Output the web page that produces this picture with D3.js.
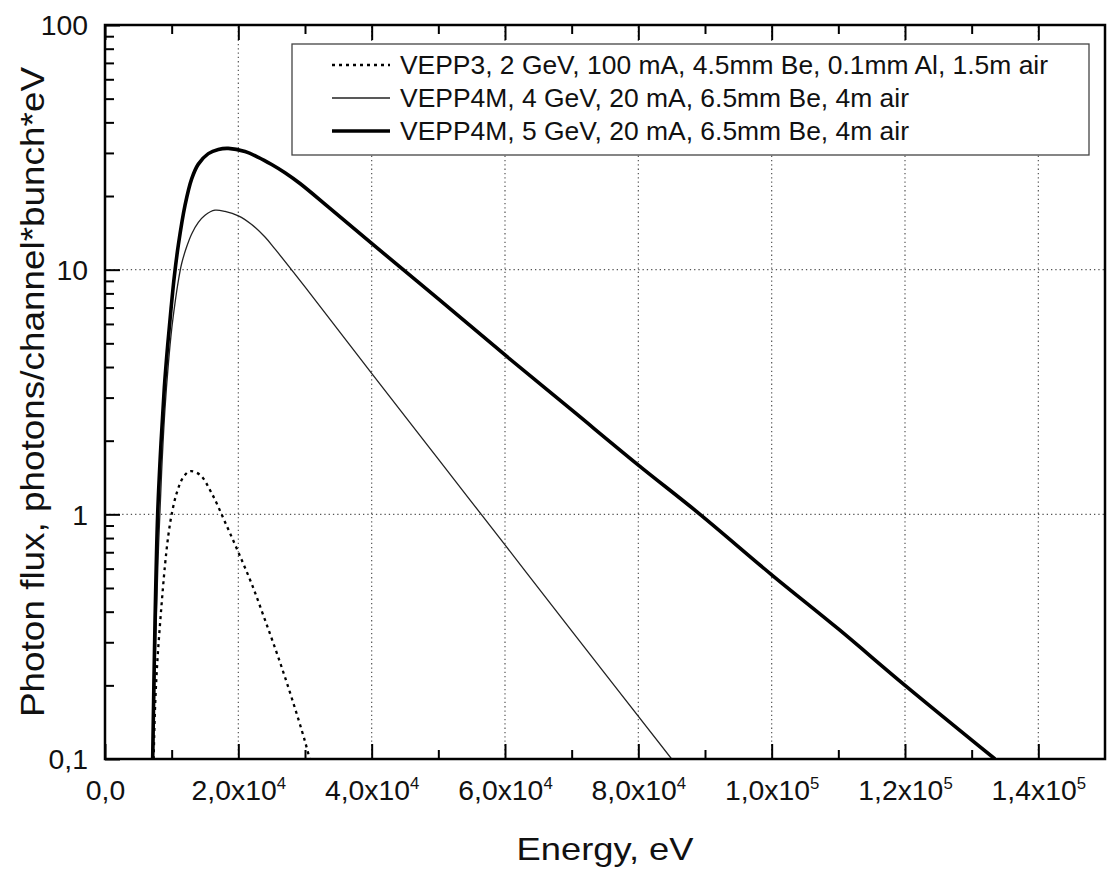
<!DOCTYPE html>
<html lang="en">
<head>
<meta charset="UTF-8">
<title>Photon flux vs energy</title>
<script src="https://d3js.org/d3.v7.min.js"></script>
<style>
  body { margin: 0; background: #fff; }
  svg { display: block; font-family: "Liberation Sans", Arial, sans-serif; }
</style>
</head>
<body>
<svg id="chart"></svg>
<script>
const width = 1112, height = 872;
const margin = { top: 25, right: 7, bottom: 113, left: 105 };

// [energy eV, photons/channel*bunch*eV]
const vepp3_2GeV = [
  [7300, 0.1], [7500, 0.16], [7850, 0.25], [8400, 0.40], [9000, 0.62], [9500, 0.82], [10000, 1.0],
  [10750, 1.22], [11750, 1.42], [12750, 1.5], [14250, 1.45], [16000, 1.22], [18000, 0.93],
  [20000, 0.70], [22000, 0.52], [24000, 0.37], [26000, 0.26], [28000, 0.178], [30000, 0.118], [30700, 0.1]
];
const vepp4m_4GeV = [
  [7250, 0.1], [7600, 0.3], [8000, 0.7], [8500, 1.5], [9000, 2.7], [9500, 4.1], [10000, 5.7],
  [10500, 7.3], [11000, 9.0], [11500, 10.6], [12250, 12.4], [13000, 14.0], [14000, 15.6], [15000, 16.7],
  [16500, 17.5], [18000, 17.3], [20000, 16.6], [22000, 15.3], [24000, 13.6], [25550, 12.1],
  [30000, 8.5], [40000, 3.77], [50000, 1.68], [60000, 0.75], [70000, 0.334], [85000, 0.1]
];
const vepp4m_5GeV = [
  [7150, 0.1], [7500, 0.36], [7900, 1.0], [8400, 1.95], [8900, 3.3], [9400, 4.9], [9900, 6.9],
  [10400, 9.4], [11000, 12.6], [12000, 18.3], [13000, 23.5], [14000, 27], [15500, 29.8], [17000, 31],
  [18500, 31.3], [21000, 30.4], [23000, 28.8], [25000, 26.9], [27000, 24.9], [29250, 22.5],
  [33750, 17.8], [40000, 12.8], [50000, 7.6], [60000, 4.48], [70000, 2.67], [80000, 1.59],
  [89250, 1.0], [100000, 0.566], [110000, 0.34], [120000, 0.2], [133500, 0.1]
];

const legendLabels = [
  "VEPP3, 2 GeV, 100 mA, 4.5mm Be, 0.1mm Al, 1.5m air",
  "VEPP4M, 4 GeV, 20 mA, 6.5mm Be, 4m air",
  "VEPP4M, 5 GeV, 20 mA, 6.5mm Be, 4m air"
];

const xMajorTicks = [0, 20000, 40000, 60000, 80000, 100000, 120000, 140000];
const xMinorTicks = [10000, 30000, 50000, 70000, 90000, 110000, 130000];
const xTickLabels = ["0,0", "2,0x10^4", "4,0x10^4", "6,0x10^4", "8,0x10^4", "1,0x10^5", "1,2x10^5", "1,4x10^5"];
const yMajorTicks = [0.1, 1, 10, 100];
const yMinorTicks = [0.2, 0.3, 0.4, 0.5, 0.6, 0.7, 0.8, 0.9, 2, 3, 4, 5, 6, 7, 8, 9, 20, 30, 40, 50, 60, 70, 80, 90];
const yTickLabels = ["0,1", "1", "10", "100"];

const svg = d3.select("#chart").attr("width", width).attr("height", height);

const x = d3.scaleLinear().domain([0, 150000]).range([margin.left, width - margin.right]);
const y = d3.scaleLog().domain([0.1, 100]).range([height - margin.bottom, margin.top]);
const x0 = x.range()[0], x1 = x.range()[1], y0 = y.range()[0], y1 = y.range()[1];

// dotted grid
const grid = svg.append("g").attr("stroke", "#555").attr("stroke-width", 1.2).attr("stroke-dasharray", "1.3,3");
grid.selectAll(".gx").data(xMajorTicks.slice(1)).join("line")
  .attr("x1", d => x(d)).attr("x2", d => x(d)).attr("y1", y0).attr("y2", y1);
grid.selectAll(".gy").data([1, 10]).join("line")
  .attr("y1", d => y(d)).attr("y2", d => y(d)).attr("x1", x0).attr("x2", x1);

// curves
svg.append("clipPath").attr("id", "clip").append("rect")
  .attr("x", x0).attr("y", y1).attr("width", x1 - x0).attr("height", y0 - y1);
const line = d3.line().x(d => x(d[0])).y(d => y(d[1])).curve(d3.curveCatmullRom.alpha(0.5));
const series = [
  { data: vepp3_2GeV, width: 2.3, dash: "3,4", color: "#000" },
  { data: vepp4m_4GeV, width: 1.3, dash: null, color: "#222" },
  { data: vepp4m_5GeV, width: 3.6, dash: null, color: "#000" }
];
svg.append("g").attr("clip-path", "url(#clip)").selectAll("path").data(series).join("path")
  .attr("d", d => line(d.data)).attr("fill", "none")
  .attr("stroke", d => d.color).attr("stroke-width", d => d.width)
  .attr("stroke-dasharray", d => d.dash);

// axes
function styleAxis(g) {
  g.select(".domain").remove();
  g.selectAll(".tick line").attr("stroke", "#000").attr("stroke-width", 2);
}
svg.append("g").attr("transform", `translate(0,${y0})`)
  .call(d3.axisBottom(x).tickValues(xMinorTicks).tickSize(-9).tickFormat(""))
  .call(styleAxis);
svg.append("g").attr("transform", `translate(0,${y1})`)
  .call(d3.axisTop(x).tickValues(xMinorTicks).tickSize(-9).tickFormat(""))
  .call(styleAxis);
svg.append("g").attr("transform", `translate(0,${y1})`)
  .call(d3.axisTop(x).tickValues(xMajorTicks).tickSize(-15).tickFormat(""))
  .call(styleAxis);
svg.append("g").attr("transform", `translate(${x0},0)`)
  .call(d3.axisLeft(y).tickValues(yMinorTicks).tickSize(-9).tickFormat(""))
  .call(styleAxis);

const bottomAxis = svg.append("g").attr("transform", `translate(0,${y0})`)
  .call(d3.axisBottom(x).tickValues(xMajorTicks).tickSize(-15).tickFormat((d, i) => xTickLabels[i]))
  .call(styleAxis);
bottomAxis.selectAll(".tick text").each(function () {
  const t = d3.select(this);
  const parts = t.text().split("^");
  t.text(null).attr("y", 41).attr("dy", null)
    .attr("font-size", 27).attr("fill", "#111").attr("transform", "scale(1.05,1)");
  t.append("tspan").text(parts[0]);
  if (parts[1]) t.append("tspan").attr("font-size", 16).attr("dy", -11).text(parts[1]);
});

const leftAxis = svg.append("g").attr("transform", `translate(${x0},0)`)
  .call(d3.axisLeft(y).tickValues(yMajorTicks).tickSize(-15).tickFormat((d, i) => yTickLabels[i]))
  .call(styleAxis);
leftAxis.selectAll(".tick text")
  .attr("x", -17 / 1.05).attr("dy", "0.36em").attr("font-size", 27).attr("fill", "#111")
  .attr("transform", "scale(1.05,1)");

// frame
svg.append("rect").attr("x", x0).attr("y", y1).attr("width", x1 - x0).attr("height", y0 - y1)
  .attr("fill", "none").attr("stroke", "#000").attr("stroke-width", 2.5);

// axis titles
svg.append("text").attr("x", 605).attr("y", 860).attr("text-anchor", "middle")
  .attr("font-size", 32).attr("fill", "#111")
  .attr("textLength", 177).attr("lengthAdjust", "spacingAndGlyphs")
  .text("Energy, eV");
svg.append("text").attr("transform", "translate(44,392) rotate(-90)").attr("text-anchor", "middle")
  .attr("font-size", 33).attr("fill", "#111")
  .attr("textLength", 650).attr("lengthAdjust", "spacingAndGlyphs")
  .text("Photon flux, photons/channel*bunch*eV");

// legend
const legend = svg.append("g");
legend.append("rect").attr("x", 292).attr("y", 44).attr("width", 797).attr("height", 111)
  .attr("fill", "#fff").attr("stroke", "#444").attr("stroke-width", 1.3);
const legendWidths = [648, 509, 509];
const rows = legend.selectAll(".row").data(series).join("g")
  .attr("transform", (d, i) => `translate(0,${65 + i * 33})`);
rows.append("line").attr("x1", 332).attr("x2", 390)
  .attr("stroke", d => d.color).attr("stroke-width", d => d.width).attr("stroke-dasharray", d => d.dash);
rows.append("text").attr("x", 400).attr("y", 9).attr("font-size", 25).attr("fill", "#111")
  .attr("textLength", (d, i) => legendWidths[i]).attr("lengthAdjust", "spacingAndGlyphs")
  .text((d, i) => legendLabels[i]);
</script>
</body>
</html>
